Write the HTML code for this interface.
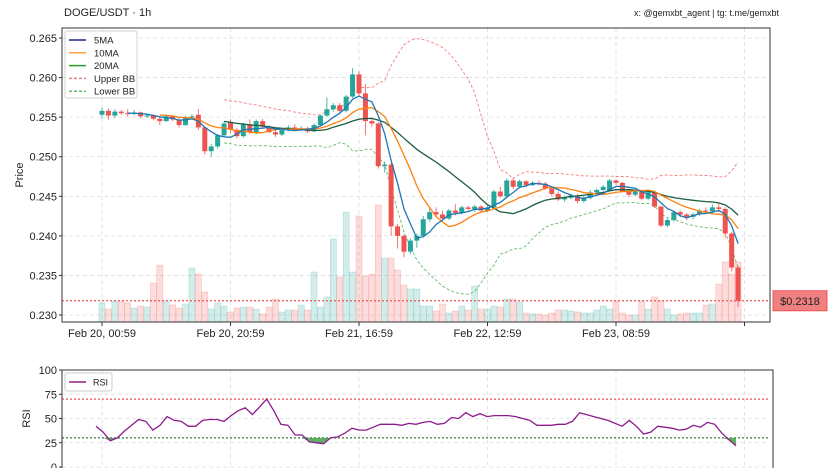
<!DOCTYPE html>
<html><head><meta charset="utf-8"><style>
html,body{margin:0;padding:0;background:#fff;}
svg{display:block;font-family:"Liberation Sans","DejaVu Sans",sans-serif;}
</style></head><body>
<svg id="chart" width="829" height="468" viewBox="0 0 829 468" xmlns="http://www.w3.org/2000/svg">
<rect width="829" height="468" fill="#fff"/>
<text x="64" y="16" font-size="11" fill="#222">DOGE/USDT · 1h</text>
<text x="779" y="16" font-size="9" fill="#222" text-anchor="end">x: @gemxbt_agent | tg: t.me/gemxbt</text>
<g id="price"></g>
<g id="rsi"></g>
</svg>
<script>
const opens=[.2553,.2558,.2552,.2557,.2555,.2554,.2556,.2551,.2552,.2548,.2545,.2551,.2547,.2540,.2550,.2553,.2537,.2507,.2513,.2527,.2543,.2534,.2526,.2541,.2531,.2545,.2538,.2531,.2528,.2534,.2537,.2535,.2536,.2532,.2540,.2552,.2560,.2565,.2558,.2576,.2604,.2580,.2545,.2542,.2488,.2490,.2412,.2400,.2380,.2394,.2400,.2421,.2430,.2427,.2422,.2432,.2429,.2436,.2434,.2437,.2432,.2436,.2456,.2450,.2470,.2462,.2469,.2464,.2467,.2466,.2460,.2453,.2446,.2448,.2451,.2444,.2448,.2455,.2458,.2458,.2470,.2467,.2456,.2452,.2456,.2447,.2455,.2437,.2413,.2420,.2430,.2427,.2424,.2427,.2432,.2431,.2436,.2434,.2403,.2360];
const closes=[.2558,.2552,.2557,.2555,.2554,.2556,.2551,.2552,.2548,.2545,.2551,.2547,.2540,.2550,.2551,.2537,.2507,.2513,.2527,.2542,.2534,.2526,.2541,.2531,.2545,.2538,.2531,.2528,.2534,.2537,.2535,.2535,.2532,.2540,.2552,.2560,.2565,.2558,.2576,.2604,.2580,.2545,.2542,.2488,.2490,.2412,.2400,.2380,.2394,.2400,.2421,.2430,.2427,.2422,.2432,.2429,.2436,.2434,.2437,.2432,.2436,.2456,.2450,.2470,.2462,.2469,.2464,.2467,.2466,.2460,.2453,.2446,.2448,.2451,.2444,.2448,.2455,.2458,.2462,.2470,.2467,.2456,.2452,.2456,.2447,.2455,.2437,.2413,.2420,.2430,.2427,.2424,.2427,.2432,.2431,.2436,.2434,.2403,.2360,.2318];
const highs=[.2562,.2561,.2560,.2559,.2560,.2559,.2557,.2555,.2553,.2550,.2554,.2552,.2549,.2552,.2554,.2560,.2538,.2516,.2529,.2545,.2547,.2536,.2543,.2547,.2547,.2548,.2540,.2537,.2536,.2540,.2541,.2539,.2538,.2542,.2553,.2575,.2568,.2568,.2578,.2612,.2608,.2592,.2548,.2544,.2494,.2492,.2415,.2402,.2397,.2403,.2425,.2437,.2436,.2432,.2434,.2440,.2438,.2438,.2439,.2439,.2438,.2458,.2462,.2473,.2473,.2471,.2470,.2469,.2470,.2468,.2463,.2456,.2451,.2453,.2453,.2450,.2458,.2460,.2464,.2472,.2471,.2468,.2459,.2458,.2457,.2457,.2456,.2438,.2422,.2432,.2432,.2429,.2429,.2434,.2436,.2440,.2442,.2436,.2405,.2362];
const lows=[.2548,.2547,.2549,.2553,.2551,.2552,.2549,.2549,.2546,.2540,.2544,.2545,.2537,.2539,.2548,.2534,.2503,.2500,.2510,.2525,.2530,.2523,.2524,.2529,.2528,.2535,.2530,.2525,.2526,.2532,.2533,.2533,.2530,.2531,.2538,.2550,.2557,.2556,.2556,.2574,.2577,.2527,.2538,.2485,.2480,.2400,.2384,.2373,.2377,.2385,.2398,.2418,.2425,.2420,.2420,.2426,.2427,.2432,.2430,.2430,.2430,.2434,.2448,.2448,.2459,.2460,.2462,.2463,.2464,.2458,.2450,.2444,.2443,.2446,.2441,.2442,.2446,.2453,.2456,.2456,.2464,.2455,.2449,.2450,.2445,.2445,.2435,.2411,.2411,.2418,.2424,.2420,.2421,.2425,.2428,.2428,.2430,.2398,.2355,.2310];
const volumes=[19,13,21,21,19,14,16,15,39,57,21,17,14,18,54,48,30,13,19,16,10,14,15,15,13,8,15,23,10,12,12,17,12,50,15,25,83,45,110,50,106,46,48,117,64,64,52,37,33,33,16,16,11,18,9,11,16,12,36,13,13,16,15,23,23,20,9,8,8,7,9,12,12,11,10,9,9,12,16,13,21,9,7,7,21,13,25,21,13,7,8,9,9,9,17,18,38,60,48,60];
const rsiVals=[42,36,27,30,37,43,49,47,38,43,52,48,47,42,42,48,49,49,47,53,58,61,54,62,70,58,44,43,33,33,26,25,24,30,31,35,40,38,38,41,44,44,44,43,45,44,46,47,44,45,51,50,56,52,55,52,53,53,53,52,50,48,43,43,43,44,44,47,56,54,52,50,48,45,42,48,42,34,36,42,41,40,38,39,43,41,46,44,35,28,22];
const priceTicks=[0.230,0.235,0.240,0.245,0.250,0.255,0.260,0.265];
const xTickIdx=[0,20,40,60,80,100];
const xTickLabels=["Feb 20, 00:59","Feb 20, 20:59","Feb 21, 16:59","Feb 22, 12:59","Feb 23, 08:59",""];
const rsiTicks=[0,25,50,75,100];
const lastPrice=0.2318;

const NS="http://www.w3.org/2000/svg";
function mk(parent,tag,attrs,txt){const e=document.createElementNS(NS,tag);for(const k in attrs)e.setAttribute(k,attrs[k]);if(txt!==undefined)e.textContent=txt;parent.appendChild(e);return e;}
const PL=62,PR=770,PT=28,PB=322;
const x=i=>102+i*6.425;
const y=p=>315-(p-0.230)/0.005*39.57;
const RT=370,RB=467;
const ry=v=>RB-(v/100)*(RB-RT);
const G=document.getElementById('price'),R=document.getElementById('rsi');
const n=closes.length;

// grid price
priceTicks.forEach(t=>{
 const l=mk(G,'line',{x1:PL,x2:PR,y1:y(t),y2:y(t),stroke:'#ddd','stroke-dasharray':'4,3','stroke-width':0.8});
 
 const tx=mk(G,'text',{x:PL-5,y:y(t)+4,'font-size':11,'text-anchor':'end',fill:'#222'},t.toFixed(3));
 
 mk(G,'line',{x1:PL-3,x2:PL,y1:y(t),y2:y(t),stroke:'#333'});
});
xTickIdx.forEach((ix,k)=>{
 const xx=x(ix);
 const l=mk(G,'line',{x1:xx,x2:xx,y1:PT,y2:PB,stroke:'#ddd','stroke-dasharray':'4,3','stroke-width':0.8});
 
 mk(G,'line',{x1:xx,x2:xx,y1:PB,y2:PB+4,stroke:'#333'});
 const tx=mk(G,'text',{x:xx,y:PB+15,'font-size':11,'text-anchor':'middle',fill:'#222'},xTickLabels[k]);
 
 const l2=mk(R,'line',{x1:xx,x2:xx,y1:RT,y2:RB,stroke:'#ddd','stroke-dasharray':'4,3','stroke-width':0.8});
 
});
const yl=mk(G,'text',{x:0,y:0,'font-size':11,'text-anchor':'middle',fill:'#222',transform:`translate(23,${(PT+PB)/2}) rotate(-90)`},'Price');


// volume bars
const vmax=Math.max(...volumes);
volumes.forEach((v,i)=>{
 const up=closes[i]>=opens[i];
 const h=v/vmax*117;
 const b=mk(G,'rect',{x:x(i)-3,y:PB-h,width:6,height:h,fill:up?'rgba(38,166,154,0.2)':'rgba(239,83,80,0.2)',stroke:up?'rgba(38,166,154,0.3)':'rgba(239,83,80,0.3)','stroke-width':0.6});
 
});

// indicators
function sma(p){return closes.map((c,i)=>{if(i<p-1)return null;let s=0;for(let j=i-p+1;j<=i;j++)s+=closes[j];return s/p;});}
function std(p,m){return closes.map((c,i)=>{if(m[i]==null)return null;let s=0;for(let j=i-p+1;j<=i;j++)s+=(closes[j]-m[i])**2;return Math.sqrt(s/p);});}
const ma5=sma(5),ma10=sma(10),ma20=sma(20),sd=std(20,ma20);
const ub=ma20.map((m,i)=>m==null?null:m+2*sd[i]),lb=ma20.map((m,i)=>m==null?null:m-2*sd[i]);
function line(arr,color,dash,w,name,parent,sx,sy){let d='';arr.forEach((v,i)=>{if(v==null)return;d+=(d?'L':'M')+sx(i).toFixed(1)+','+sy(v).toFixed(1);});
 const p=mk(parent,'path',{d:d,fill:'none',stroke:color,'stroke-width':w});if(dash)p.setAttribute('stroke-dasharray',dash);
 return p;}
line(ub,'#f08080','3,2',0.9,'upper-bb-line',G,x,y);
line(lb,'#66bb6a','3,2',0.9,'lower-bb-line',G,x,y);

// candles
for(let i=0;i<n;i++){
 const up=closes[i]>=opens[i];const col=up?'#26a69a':'#ef5350';
 const g=mk(G,'g',{});
 mk(g,'line',{x1:x(i),x2:x(i),y1:y(highs[i]),y2:y(lows[i]),stroke:col,'stroke-width':1,opacity:0.8});
 const t=y(Math.max(opens[i],closes[i])),bt=y(Math.min(opens[i],closes[i]));
 mk(g,'rect',{x:x(i)-2.5,y:t,width:5,height:Math.max(1,bt-t),fill:col});
}
line(ma20,'#1b5e40',null,1.3,'ma20-line',G,x,y);
line(ma10,'#ff7f0e',null,1.3,'ma10-line',G,x,y);
line(ma5,'#1f77b4',null,1.3,'ma5-line',G,x,y);

// last price
const lp=mk(G,'line',{x1:PL,x2:PR,y1:y(lastPrice),y2:y(lastPrice),stroke:'#ef5350','stroke-dasharray':'2,2','stroke-width':1.2});

const lb2=mk(G,'rect',{x:773,y:y(lastPrice)-10,width:54,height:20,fill:'#f08080',stroke:'#ef5350'});

const lt=mk(G,'text',{x:800,y:y(lastPrice)+4,'font-size':11,'text-anchor':'middle',fill:'#222'},'$'+lastPrice.toFixed(4));


const fr=mk(G,'rect',{x:PL,y:PT,width:PR-PL,height:PB-PT,fill:'none',stroke:'#333','stroke-width':1});


// legend
const lg=mk(G,'g',{});
mk(lg,'rect',{x:65,y:31,width:72,height:67,fill:'#fff',stroke:'#ccc',rx:2,opacity:0.9});
[['5MA','#1a237e',null],['10MA','#ff9f4a',null],['20MA','#2ca02c',null],['Upper BB','#f08080','3,2'],['Lower BB','#66bb6a','3,2']].forEach((e,k)=>{
 const yy=40+k*12.8;
 const en=mk(lg,'g',{});
 const l=mk(en,'line',{x1:69,x2:86,y1:yy,y2:yy,stroke:e[1],'stroke-width':1.5});if(e[2])l.setAttribute('stroke-dasharray',e[2]);
 mk(en,'text',{x:94,y:yy+3.5,'font-size':9.5,fill:'#222'},e[0]);
});

// RSI panel
rsiTicks.forEach(t=>{
 const l=mk(R,'line',{x1:PL,x2:PR,y1:ry(t),y2:ry(t),stroke:'#ddd','stroke-dasharray':'4,3','stroke-width':0.8});
 
 const tx=mk(R,'text',{x:PL-5,y:ry(t)+4,'font-size':11,'text-anchor':'end',fill:'#222'},String(t));
 
 mk(R,'line',{x1:PL-3,x2:PL,y1:ry(t),y2:ry(t),stroke:'#333'});
});
const rl=mk(R,'text',{x:0,y:0,'font-size':11,'text-anchor':'middle',fill:'#222',transform:`translate(30,${ry(50)}) rotate(-90)`},'RSI');

const ob=mk(R,'line',{x1:PL,x2:PR,y1:ry(70),y2:ry(70),stroke:'#ef5350','stroke-dasharray':'2,2','stroke-width':1.2});

const os=mk(R,'line',{x1:PL,x2:PR,y1:ry(30),y2:ry(30),stroke:'#2e7d32','stroke-dasharray':'2,2','stroke-width':1.2});

const rx=i=>96+i*(736-96)/(rsiVals.length-1);
// oversold fills
for(let i=0;i<rsiVals.length-1;i++){
 const a=rsiVals[i],b=rsiVals[i+1];
 if(a<30||b<30){
  const f=mk(R,'polygon',{points:`${rx(i)},${ry(30)} ${rx(i)},${ry(Math.min(a,30))} ${rx(i+1)},${ry(Math.min(b,30))} ${rx(i+1)},${ry(30)}`,fill:'#43a047',opacity:0.85});
  
 }
}
line(rsiVals,'#8e1b8e',null,1.3,'rsi-line',R,rx,ry);
const rf=mk(R,'rect',{x:PL,y:RT,width:PR-PL+3,height:RB-RT+5,fill:'none',stroke:'#333','stroke-width':1});

const rlg=mk(R,'g',{});
mk(rlg,'rect',{x:65,y:373,width:47,height:18,fill:'#fff',stroke:'#ccc',rx:2});
mk(rlg,'line',{x1:69,x2:86,y1:382,y2:382,stroke:'#8e1b8e','stroke-width':1.5});
mk(rlg,'text',{x:93,y:385.5,'font-size':9,fill:'#222'},'RSI');
</script>
</body></html>
